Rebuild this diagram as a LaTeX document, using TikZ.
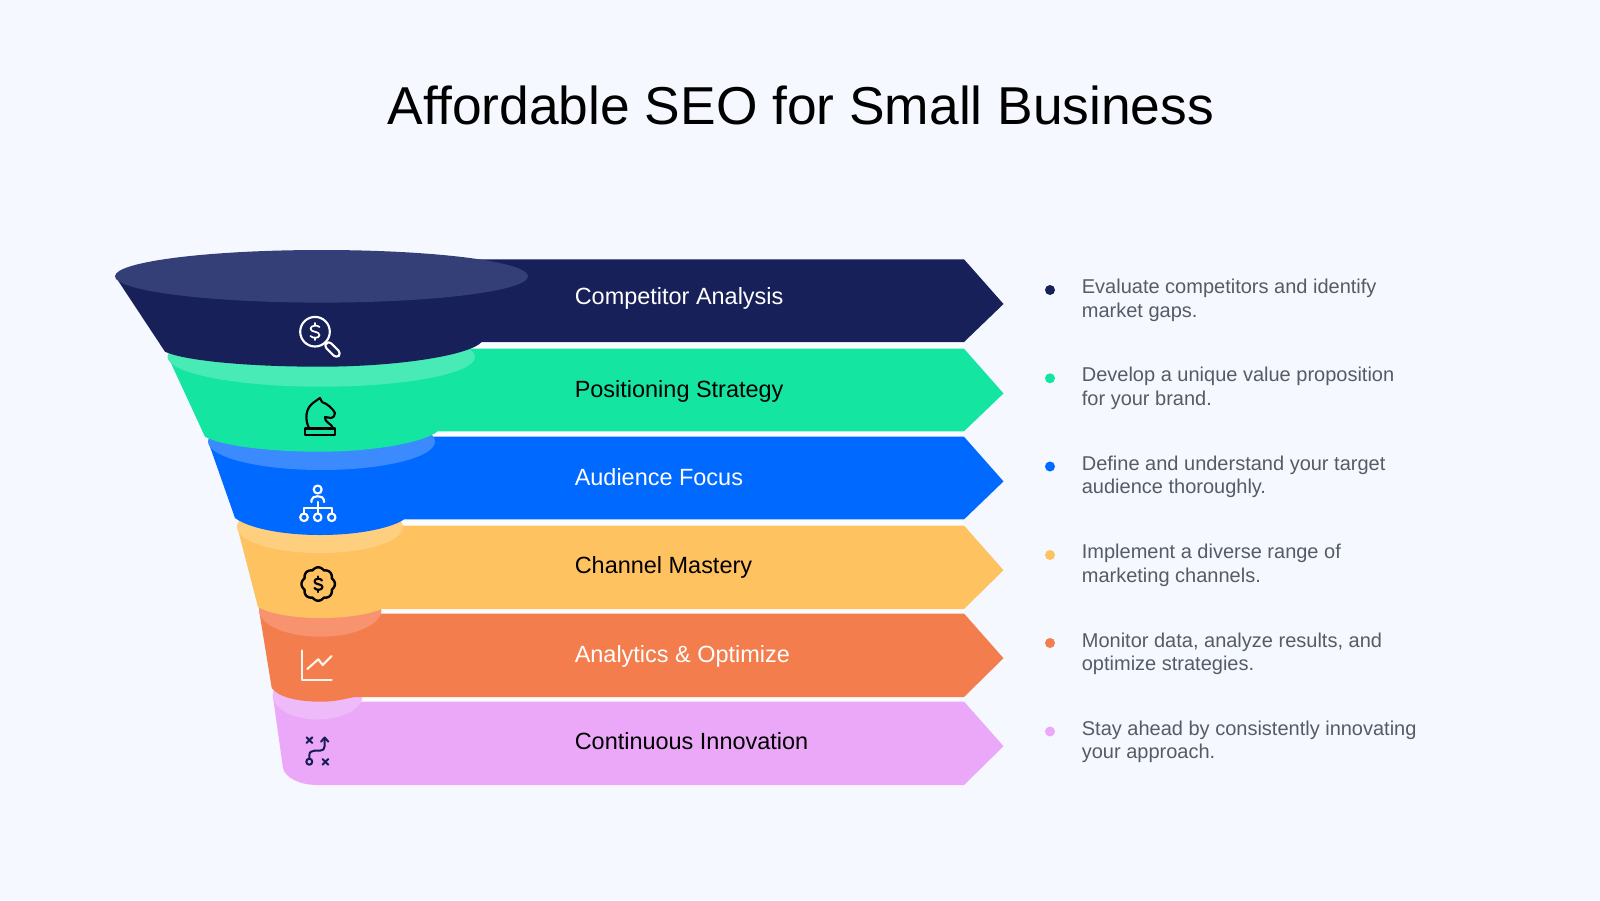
\documentclass[tikz,border=0pt]{standalone}
\usepackage{fontspec}
\setmainfont[Ligatures=CommonOff]{Liberation Sans}
\definecolor{bgc}{HTML}{F5F8FF}
\definecolor{gapc}{HTML}{FBFCFF}
\definecolor{c1}{HTML}{172059}\definecolor{h1}{HTML}{343F78}
\definecolor{c2}{HTML}{14E5A0}\definecolor{h2}{HTML}{48EBB6}
\definecolor{c3}{HTML}{0069FF}\definecolor{h3}{HTML}{3B8BFF}
\definecolor{c4}{HTML}{FFC261}\definecolor{h4}{HTML}{FFCF80}
\definecolor{c5}{HTML}{F47D4E}\definecolor{h5}{HTML}{F7946F}
\definecolor{c6}{HTML}{EBA8F8}\definecolor{h6}{HTML}{EFBAFA}
\definecolor{txtg}{HTML}{555C66}
\tikzset{
 titletxt/.style={font=\fontsize{40pt}{48pt}\selectfont,text=black,inner sep=0pt},
 labeltxt/.style={font=\fontsize{17.6pt}{22pt}\selectfont,anchor=west,inner sep=0pt},
 desc/.style={font=\fontsize{15pt}{17.6pt}\selectfont,text=txtg,anchor=west,align=left,inner sep=0pt},
 bullet/.style={circle,minimum size=7.5pt,inner sep=0pt},
 ico/.style={line width=1.6pt,line cap=round,line join=round}
}
\begin{document}
\begin{tikzpicture}[x=0.75pt,y=-0.75pt]
\useasboundingbox (0,0) rectangle (1600,900);
\fill[bgc] (0,0) rectangle (1600,900);
\node[titletxt] (title) at (801,105) {Affordable SEO for Small Business};
% gaps
\fill[gapc] (360,342) rectangle (964,702);
% ---- pink
\fill[c6] (300,701.5) -- (964,701.5) -- (1003.5,746.2) -- (964,785) -- (318,785) .. controls (298,785) and (285,777) .. (283,768) -- (272.7,695) -- cycle;
\fill[h6] (317.7,695) ellipse [x radius=45,y radius=24.5];
% ---- orange
\fill[c5] (300,613.5) -- (964,613.5) -- (1003.5,658.2) -- (964,697) -- (356.7,697) .. controls (350,697) and (340,701.7) .. (320,701.7) .. controls (298,701.7) and (278,697) .. (271.7,688) -- (259,610) -- cycle;
\fill[h5] (320.2,610) ellipse [x radius=61.2,y radius=26.7];
% ---- yellow
\fill[c4] (300,525.5) -- (964,525.5) -- (1003.5,570.2) -- (964,609) -- (381.7,609) .. controls (375,612) and (355,618) .. (320,618) .. controls (295,618) and (270,614) .. (258,607) -- (237,526) -- cycle;
\fill[h4] (320,527) ellipse [x radius=83,y radius=26];
% ---- blue
\fill[c3] (300,436.7) -- (964,436.7) -- (1003.5,481.4) -- (964,519.4) -- (404,519.4) .. controls (395,526) and (365,535) .. (320,535) .. controls (285,535) and (250,529) .. (235,518) -- (208,441) -- cycle;
\fill[h3] (321.5,441.5) ellipse [x radius=113.5,y radius=28.5];
% ---- green
\fill[c2] (300,348.7) -- (964,348.7) -- (1003.5,393.4) -- (964,431.3) -- (437.7,431.3) .. controls (425,442) and (375,451.7) .. (320,451.7) .. controls (270,451.7) and (222,446) .. (205,436.7) -- (167.7,356) -- cycle;
\fill[h2] (321.3,357) ellipse [x radius=153.7,y radius=29.7];
% ---- navy
\fill[c1] (300,259.3) -- (964,259.3) -- (1003.5,304) -- (964,342) -- (481.7,342) .. controls (470,355) and (400,366.7) .. (320,366.7) .. controls (250,366.7) and (185,361) .. (165,351.7) -- (115,276) -- cycle;
\fill[h1] (321.5,276.3) ellipse [x radius=206.5,y radius=26.3];
% ---- icons
\begin{scope}[ico,draw=white]
 \draw (315,331.7) circle (14.8);
 \draw (325.5,342.2) -- (327,343.7);
 \draw[rotate around={-45:(332.5,349.5)},rounded corners=3] (323.5,346) rectangle (341.5,353);
 \draw[line width=1.3pt] (319.5,327) .. controls (318,325) and (310.5,325) .. (310.5,328.7) .. controls (310.5,332.5) and (319.5,331) .. (319.5,335) .. controls (319.5,338.5) and (312.5,338.5) .. (310.5,336);
 \draw[line width=1.3pt] (315,323) -- (315,325.5) (315,337.5) -- (315,340);
\end{scope}
\begin{scope}[ico,draw=black]
 \draw (309,428) .. controls (305,420) and (305,409) .. (313,403) .. controls (316,401) and (318,399) .. (320,398) -- (322,402) .. controls (328,404) and (333,409) .. (335,413) .. controls (335,416) and (333,418) .. (331,418) -- (325,417) .. controls (324,422) and (332,424) .. (333,428);
 \draw (305,428.5) -- (335,428.5) -- (335,435) -- (305,435) -- cycle;
\end{scope}
\begin{scope}[ico,draw=white]
 \draw (317.7,489.5) circle (4);
 \draw (311.5,502) -- (311.5,500) .. controls (311.5,495) and (324,495) .. (324,500) -- (324,502);
 \draw (317.7,502) -- (317.7,513) (304,513) -- (304,508) -- (331.7,508) -- (331.7,513);
 \draw (304,517.3) circle (3.8) (317.7,517.3) circle (3.8) (331.7,517.3) circle (3.8);
\end{scope}
\begin{scope}[ico,draw=black]
 \draw[line width=1.8pt] plot[samples=145,domain=0:357.5] ({318.2+(14.7+2*abs(cos(4*\x)))*cos(\x)},{584+(14.7+2*abs(cos(4*\x)))*sin(\x)}) -- cycle;
 \draw[line width=1.6pt] (322,580.5) .. controls (321,578) and (314.5,578) .. (314.5,581.5) .. controls (314.5,585) and (322.5,583.5) .. (322.5,587) .. controls (322.5,590.5) and (315.5,590.5) .. (314.5,588);
 \draw[line width=1.6pt] (318.4,576.5) -- (318.4,578.5) (318.4,590) -- (318.4,592);
\end{scope}
\begin{scope}[ico,draw=white!92!c5]
 \draw (301.7,650.5) -- (301.7,680) -- (331.7,680);
 \draw (307.3,669) -- (318.3,659.3) -- (322.7,665) -- (331.7,656);
\end{scope}
\begin{scope}[ico,draw=c1!90!black,line width=1.5pt]
 \draw (306.5,737.3) -- (312.3,743) (312.3,737.3) -- (306.5,743);
 \draw (322.5,759) -- (328.3,764.7) (328.3,759) -- (322.5,764.7);
 \draw (309.3,761.7) circle (3);
 \draw (309.3,758.7) -- (309.3,755.5) .. controls (309.3,752) and (311.5,750.7) .. (314.5,750.7) -- (320,750.7) .. controls (323,750.7) and (324.7,749) .. (324.7,746) -- (324.7,738);
 \draw (321,741.7) -- (324.7,737.5) -- (328.3,741.7);
\end{scope}
% ---- labels
\node[labeltxt,text=white] (l1) at (574.5,298) {Competitor Analysis};
\node[labeltxt,text=black] (l2) at (574.5,391) {Positioning Strategy};
\node[labeltxt,text=white] (l3) at (574.5,477) {Audience Focus};
\node[labeltxt,text=black] (l4) at (574.5,567.5) {Channel Mastery};
\node[labeltxt,text=white] (l5) at (574.5,656.5) {Analytics \& Optimize};
\node[labeltxt,text=black] (l6) at (574.5,741) {Continuous Innovation};
% ---- bullets
\node[bullet,fill=c1] (b1) at (1050,290) {};
\node[bullet,fill=c2] (b2) at (1050,378.3) {};
\node[bullet,fill=c3] (b3) at (1050,466.5) {};
\node[bullet,fill=c4] (b4) at (1050,555) {};
\node[bullet,fill=c5] (b5) at (1050,643) {};
\node[bullet,fill=c6] (b6) at (1050,731.5) {};
\node[desc] (d1) at (1081.6,300.5) {Evaluate competitors and identify\\market gaps.};
\node[desc] (d2) at (1081.6,388.5) {Develop a unique value proposition\\for your brand.};
\node[desc] (d3) at (1081.6,477) {Define and understand your target\\audience thoroughly.};
\node[desc] (d4) at (1081.6,565.3) {Implement a diverse range of\\marketing channels.};
\node[desc] (d5) at (1081.6,654) {Monitor data, analyze results, and\\optimize strategies.};
\node[desc] (d6) at (1081.6,742) {Stay ahead by consistently innovating\\your approach.};
\end{tikzpicture}
\end{document}
